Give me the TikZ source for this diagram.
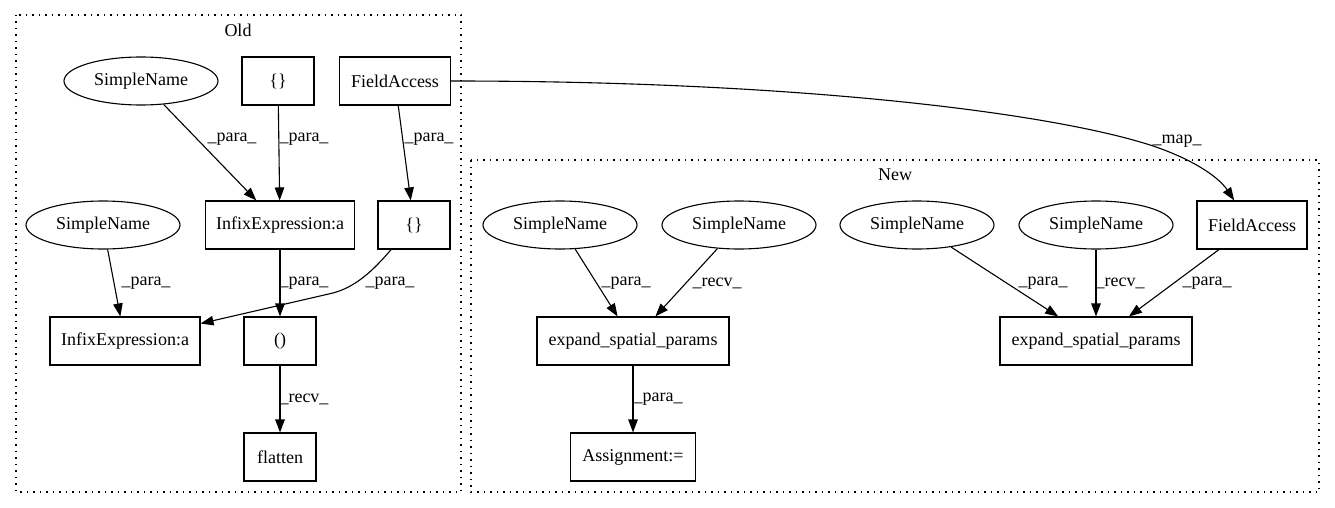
\documentclass[tikz,border=0pt]{standalone}
\usepackage{fontspec}
\setmainfont{Liberation Serif}
\usetikzlibrary{arrows.meta,shapes.geometric}
\tikzset{
  every node/.style={font=\fontsize{18}{22}\selectfont},
  box/.style={draw, line width=1.1pt, rectangle, minimum height=48pt, inner sep=0pt},
  ell/.style={draw, line width=1.1pt, ellipse, minimum width=154pt, minimum height=48pt, inner sep=0pt},
  edge/.style={line width=1.1pt, -{Triangle[length=13pt,width=9.5pt]}},
  lbl/.style={inner sep=0pt},
  cluster/.style={line width=1.2pt, dash pattern=on 1.5pt off 5pt},
}
\begin{document}
\begin{tikzpicture}[x=1pt,y=-1pt]
\useasboundingbox (0,0) rectangle (1335,508);
% clusters
\draw[cluster] (16,15) rectangle (461,492);
\node[lbl] (oldlbl) at (238,30) {Old};
\draw[cluster] (471,160) rectangle (1319,492);
\node[lbl] (newlbl) at (895,175) {New};
% Old nodes
\node[ell] (sn1) at (141,81) {SimpleName};
\node[box, minimum width=72pt] (br1) at (278,81) {\{\}};
\node[box, minimum width=111pt] (fa1) at (395,81) {FieldAccess};
\node[box, minimum width=149pt] (inf1) at (280,225) {InfixExpression:a};
\node[box, minimum width=72pt] (br2) at (414,225) {\{\}};
\node[ell] (sn2) at (103,225) {SimpleName};
\node[box, minimum width=150pt] (inf2) at (125,341) {InfixExpression:a};
\node[box, minimum width=72pt] (par) at (280,341) {()};
\node[box, minimum width=72pt] (fl) at (280,457) {flatten};
% New nodes
\node[ell] (snA) at (560,225) {SimpleName};
\node[ell] (snB) at (739,225) {SimpleName};
\node[ell] (snC) at (917,225) {SimpleName};
\node[ell] (snD) at (1096,225) {SimpleName};
\node[box, minimum width=110pt] (faN) at (1252,225) {FieldAccess};
\node[box, minimum width=192pt] (esp1) at (633,341) {expand\_spatial\_params};
\node[box, minimum width=192pt] (esp2) at (1096,341) {expand\_spatial\_params};
\node[box, minimum width=125pt] (asg) at (633,457) {Assignment:=};
% Old edges
\draw[edge] (sn1) -- (inf1);
\node[lbl] (l1) at (232,139) {\_para\_};
\draw[edge] (br1) -- (inf1);
\node[lbl] (l2) at (304,139) {\_para\_};
\draw[edge] (fa1) -- (br2);
\node[lbl] (l3) at (429,139) {\_para\_};
\draw[edge] (sn2) -- (inf2);
\node[lbl] (l4) at (146,283) {\_para\_};
\draw[edge] (inf1) -- (par);
\node[lbl] (l5) at (304,283) {\_para\_};
\draw[edge] (br2.227.5) .. controls (372,272) and (355,287) .. (333,293) -- (inf2.13.5);
\node[lbl] (l6) at (390,283) {\_para\_};
\draw[edge] (par) -- (fl);
\node[lbl] (l7) at (304,399) {\_recv\_};
% map edge
\draw[edge] (fa1.east) .. controls (800,81) and (1050,113) .. (1150,145) .. controls (1190,158) and (1218,176) .. (faN.126.9);
\node[lbl] (l8) at (1177,141) {\_map\_};
% New edges
\draw[edge] (snA) -- (esp1);
\node[lbl] (l9) at (626,283) {\_para\_};
\draw[edge] (snB) -- (esp1);
\node[lbl] (l10) at (717,283) {\_recv\_};
\draw[edge] (esp1) -- (asg);
\node[lbl] (l11) at (658,399) {\_para\_};
\draw[edge] (snC) -- (esp2);
\node[lbl] (l12) at (1043,283) {\_para\_};
\draw[edge] (snD) -- (esp2);
\node[lbl] (l13) at (1120,283) {\_recv\_};
\draw[edge] (faN) -- (esp2);
\node[lbl] (l14) at (1207,283) {\_para\_};
\end{tikzpicture}
\end{document}
